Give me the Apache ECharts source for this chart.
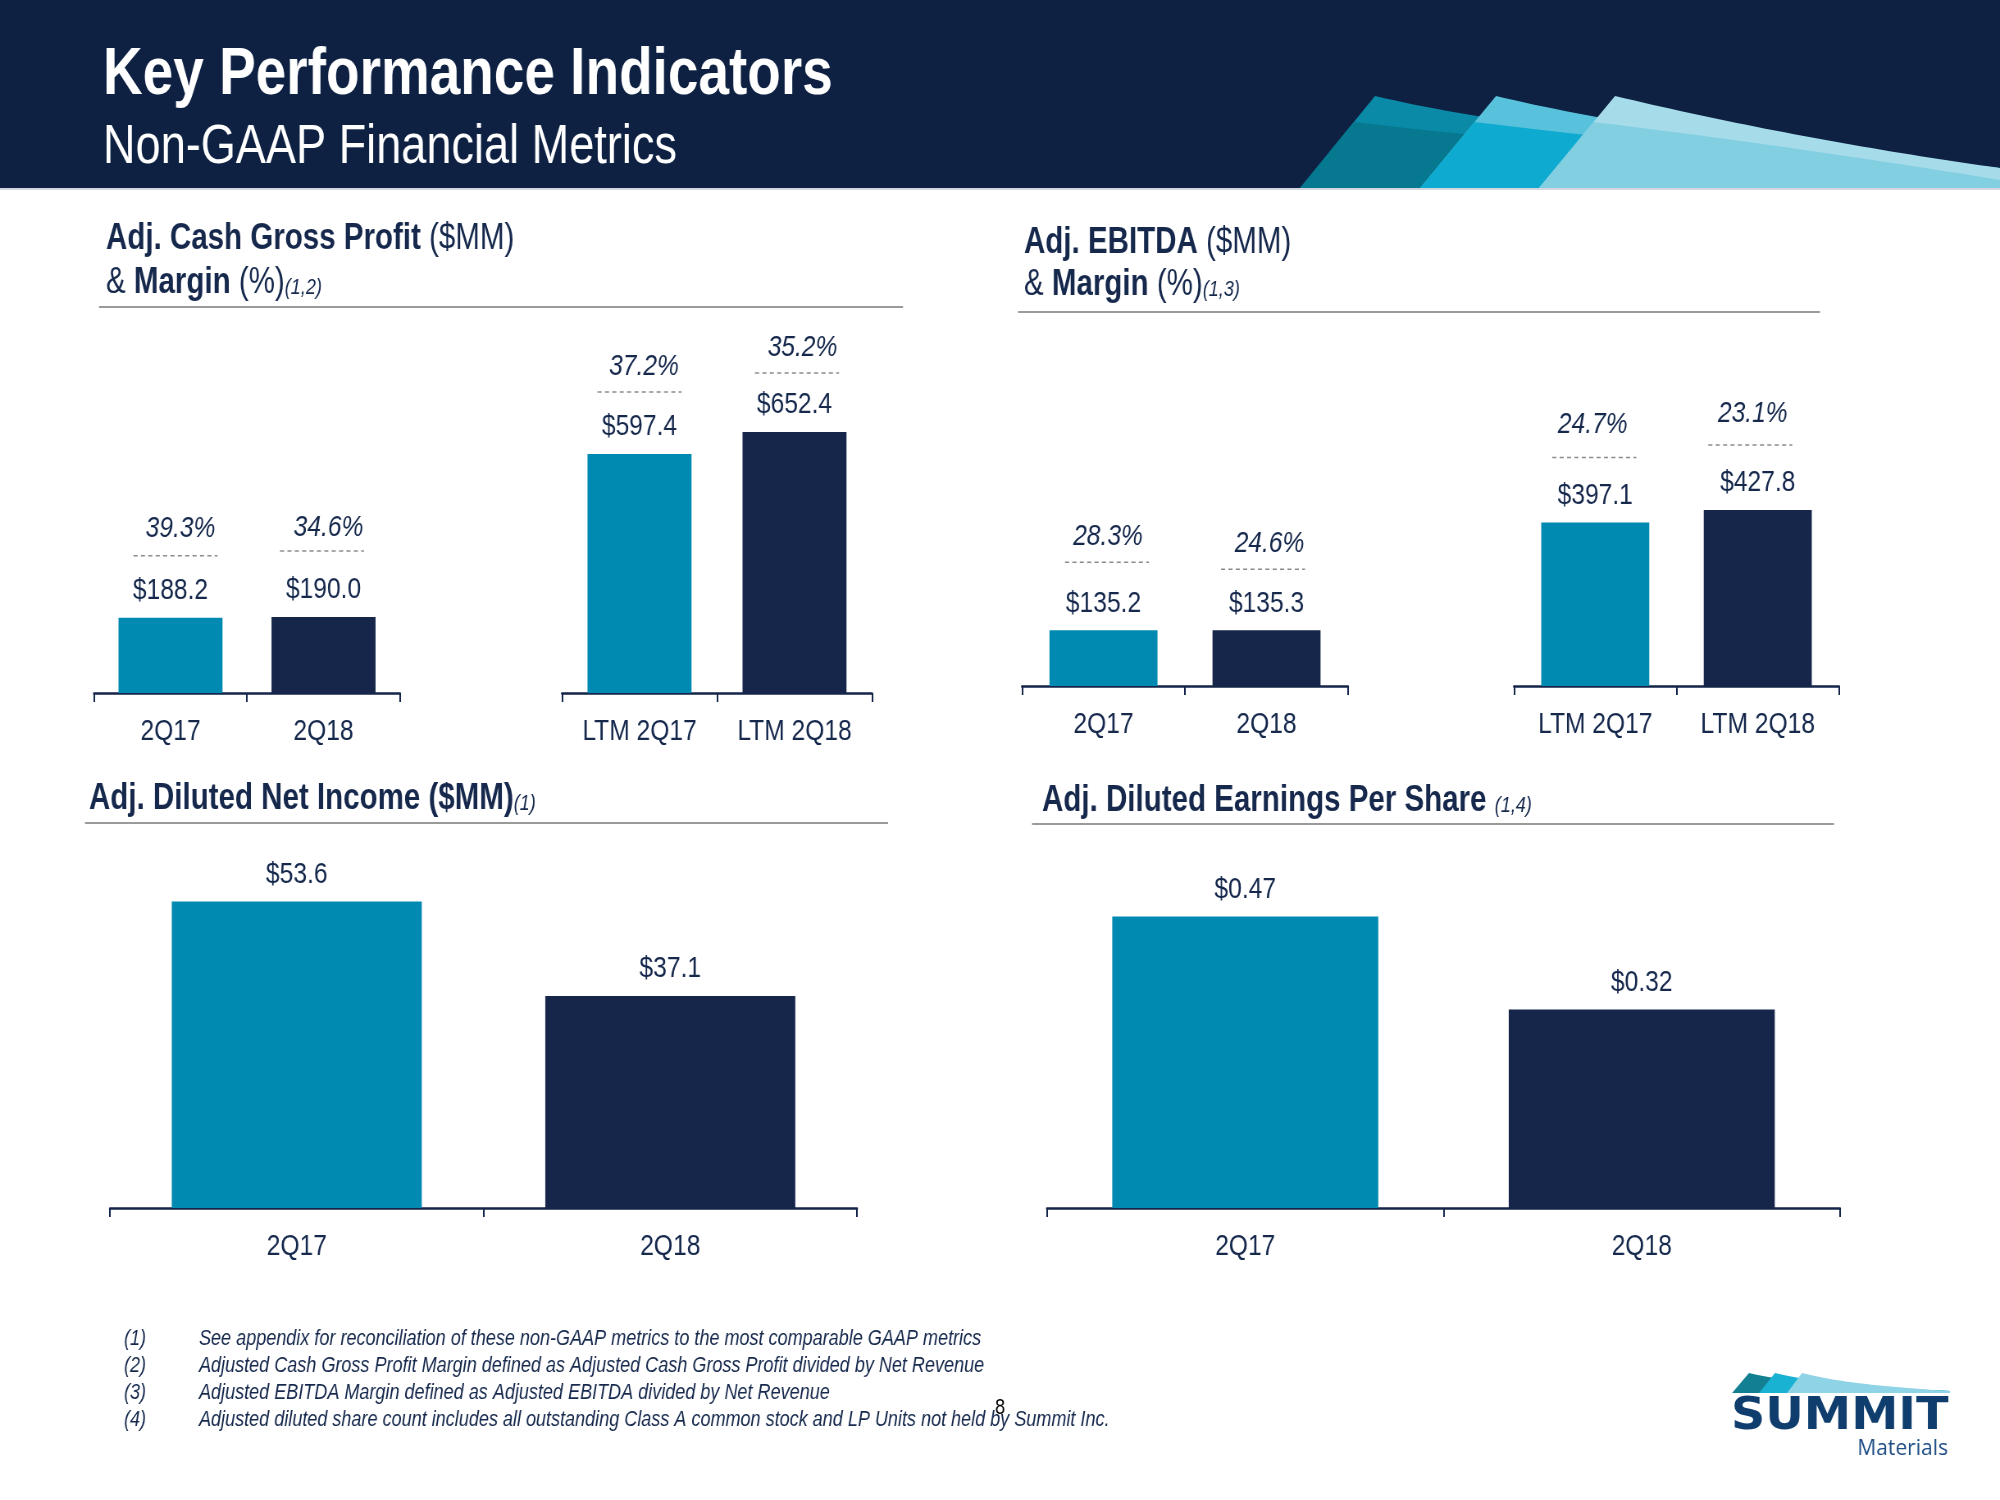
<!DOCTYPE html>
<html>
<head>
<meta charset="utf-8">
<script src="https://cdn.jsdelivr.net/npm/echarts@6/dist/echarts.min.js"></script>
<style>
html,body{margin:0;padding:0;background:#fff;overflow:hidden;}
#wrap{width:2000px;height:1500px;overflow:hidden;position:relative;}
#main{height:1500px;transform-origin:0 0;position:absolute;left:0;top:0;}
</style>
</head>
<body>
<div id="wrap"><div id="main"></div></div>
<script>
// ---------------- DATA ----------------
const cgpCatsQ = ['2Q17', '2Q18'];
const cgpValsQ = [188.2, 190.0];
const cgpMarginQ = [39.3, 34.6];
const cgpCatsLTM = ['LTM 2Q17', 'LTM 2Q18'];
const cgpValsLTM = [597.4, 652.4];
const cgpMarginLTM = [37.2, 35.2];

const ebitdaCatsQ = ['2Q17', '2Q18'];
const ebitdaValsQ = [135.2, 135.3];
const ebitdaMarginQ = [28.3, 24.6];
const ebitdaCatsLTM = ['LTM 2Q17', 'LTM 2Q18'];
const ebitdaValsLTM = [397.1, 427.8];
const ebitdaMarginLTM = [24.7, 23.1];

const niCats = ['2Q17', '2Q18'];
const niVals = [53.6, 37.1];

const epsCats = ['2Q17', '2Q18'];
const epsVals = [0.47, 0.32];

const footnoteNums = ['(1)', '(2)', '(3)', '(4)'];
const footnotes = [
  'See appendix for reconciliation of these non-GAAP metrics to the most comparable GAAP metrics',
  'Adjusted Cash Gross Profit Margin defined as Adjusted Cash Gross Profit divided by Net Revenue',
  'Adjusted EBITDA Margin defined as Adjusted EBITDA divided by Net Revenue',
  'Adjusted diluted share count includes all outstanding Class A common stock and LP Units not held by Summit Inc.'
];

// ---------------- STYLE / LAYOUT ----------------
// The chart canvas is drawn wider and squeezed horizontally (narrow type like Arial Narrow).
const K = 0.82;
const X = v => v / K;
const mainEl = document.getElementById('main');
mainEl.style.width = (2000 / K) + 'px';
mainEl.style.transform = 'scaleX(' + K + ')';

const FN = "'Liberation Sans',Arial,sans-serif";
const NAVY = '#16294d';
const BAR_COLORS = ['#008ab1', '#15264a'];
const AXIS_COLOR = '#14254a';

const chart = echarts.init(mainEl, null, {renderer: 'canvas'});

// grids: [left, top, width, height, yMax, barWidth]
const gridDefs = [
  [94, 373, 306, 320, 800, 104],
  [562, 373, 310, 320, 800, 104],
  [1022, 439, 326, 247, 600, 108],
  [1514, 439, 325, 247, 600, 108],
  [110, 865, 747, 343, 60, 250],
  [1047, 898, 793, 310, 0.5, 266]
];
const catsList = [cgpCatsQ, cgpCatsLTM, ebitdaCatsQ, ebitdaCatsLTM, niCats, epsCats];
const valsList = [cgpValsQ, cgpValsLTM, ebitdaValsQ, ebitdaValsLTM, niVals, epsVals];
const marginList = [cgpMarginQ, cgpMarginLTM, ebitdaMarginQ, ebitdaMarginLTM, null, null];
const decimals = [1, 1, 1, 1, 1, 2];
// per-item placement of the dashed rule and margin text relative to the bar top
const marginLayout = [
  {dashY: [62, 66], dashDX: [5, -1.5], pctY: [89, 89], pctDX: [10, 5]},
  {dashY: [62, 59], dashDX: [0, 2.5], pctY: [87, 84], pctDX: [4.5, 8]},
  {dashY: [68, 61], dashDX: [3.5, -3.5], pctY: [94, 87], pctDX: [4.5, 3]},
  {dashY: [65, 65], dashDX: [-1, -7.5], pctY: [98, 96], pctDX: [-2.5, -5]}
];

const grids = [], xAxes = [], yAxes = [], series = [];
gridDefs.forEach((g, i) => {
  grids.push({left: X(g[0]), top: g[1], width: X(g[2]), height: g[3], containLabel: false});
  xAxes.push({
    gridIndex: i, type: 'category', data: catsList[i],
    axisLine: {show: true, lineStyle: {color: AXIS_COLOR, width: 2.5}},
    axisTick: {show: true, length: 9, lineStyle: {color: AXIS_COLOR, width: 2}},
    axisLabel: {fontFamily: FN, fontSize: 30, color: NAVY, margin: 24, interval: 0},
    splitLine: {show: false}
  });
  yAxes.push({gridIndex: i, type: 'value', min: 0, max: g[4], show: false});
  const dec = decimals[i];
  series.push({
    type: 'bar', xAxisIndex: i, yAxisIndex: i, barWidth: X(g[5]),
    data: valsList[i].map((v, j) => ({value: v, itemStyle: {color: BAR_COLORS[j]}})),
    label: {
      show: true, position: 'top', distance: 12,
      fontFamily: FN, fontSize: 30, color: NAVY,
      formatter: p => '$' + p.value.toFixed(dec)
    },
    silent: true
  });
  if (marginList[i]) {
    const L = marginLayout[i];
    series.push({
      type: 'custom', xAxisIndex: i, yAxisIndex: i,
      data: valsList[i].map((v, j) => [j, v, marginList[i][j]]),
      renderItem: function (params, api) {
        const j = params.dataIndex;
        const p = api.coord([api.value(0), api.value(1)]);
        const cx = p[0] + X(L.dashDX[j]);
        return {
          type: 'group',
          children: [
            {type: 'line', shape: {x1: cx - X(42), y1: p[1] - L.dashY[j], x2: cx + X(42), y2: p[1] - L.dashY[j]},
             style: {stroke: '#8c8c8c', lineWidth: 1.5, lineDash: [5, 4]}},
            {type: 'text', x: p[0] + X(L.pctDX[j]), y: p[1] - L.pctY[j],
             style: {text: api.value(2).toFixed(1) + '%', fontFamily: FN, fontStyle: 'italic', fontSize: 30,
                     fill: NAVY, align: 'center', verticalAlign: 'middle'}}
          ]
        };
      },
      silent: true, z: 5
    });
  }
});

// ---------------- DECORATION ----------------
function qb(p0, p1, p2, n) {
  const pts = [];
  for (let k = 0; k <= n; k++) {
    const t = k / n, u = 1 - t;
    pts.push([X(u * u * p0[0] + 2 * u * t * p1[0] + t * t * p2[0]), u * u * p0[1] + 2 * u * t * p1[1] + t * t * p2[1]]);
  }
  return pts;
}
const graphics = [];
graphics.push({type: 'rect', shape: {x: 0, y: 0, width: X(2000), height: 188}, style: {fill: '#0e2142'}});
graphics.push({type: 'rect', shape: {x: 0, y: 188, width: X(2000), height: 2}, style: {fill: '#d3d8e0'}});

// header mountains
const peaks = [[1375, 1300, '#0a8aa6', '#06788f'], [1496, 1420, '#58c2dc', '#0eaacf'], [1615, 1539, '#a6dcea', '#83cfe2']];
peaks.forEach(pk => {
  const px = pk[0], lb = pk[1];
  const up = [[X(lb), 188]].concat(qb([px, 96], [px + 185, 140], [2000, 168], 40)).concat([[X(2000), 188]]);
  graphics.push({type: 'polygon', shape: {points: up}, style: {fill: pk[2]}});
  const lx = px - (26 / 92) * (px - lb);
  const low = [[X(lb), 188]].concat(qb([lx, 122], [px + 170, 145], [2000, 180], 40)).concat([[X(2000), 188]]);
  graphics.push({type: 'polygon', shape: {points: low}, style: {fill: pk[3]}});
});

// header texts
graphics.push({type: 'text', x: X(103), y: 76, style: {text: 'Key Performance Indicators', fontFamily: FN, fontWeight: 'bold', fontSize: 67, fill: '#ffffff', verticalAlign: 'middle'}});
graphics.push({type: 'text', x: X(103), y: 148, style: {text: 'Non-GAAP Financial Metrics', fontFamily: FN, fontSize: 55, fill: '#ffffff', verticalAlign: 'middle'}});

// panel titles
const rich = {
  b: {fontFamily: FN, fontWeight: 'bold', fontSize: 36, fill: NAVY},
  r: {fontFamily: FN, fontSize: 36, fill: NAVY},
  s: {fontFamily: FN, fontStyle: 'italic', fontSize: 22, fill: NAVY, padding: [10, 0, 0, 0]}
};
function rt(x, y, text) {
  graphics.push({type: 'text', x: X(x), y: y, style: {text: text, rich: rich, verticalAlign: 'middle'}});
}
rt(106, 239, '{b|Adj. Cash Gross Profit}{r| ($MM)}');
rt(106, 283, '{r|& }{b|Margin}{r| (%)}{s|(1,2)}');
rt(1024, 243, '{b|Adj. EBITDA}{r| ($MM)}');
rt(1024, 285, '{r|& }{b|Margin}{r| (%)}{s|(1,3)}');
rt(89, 799, '{b|Adj. Diluted Net Income ($MM)}{s|(1)}');
rt(1042, 801, '{b|Adj. Diluted Earnings Per Share }{s|(1,4)}');

// separators
[[99, 903, 307], [1018, 1820, 312], [85, 888, 823], [1032, 1834, 824]].forEach(s => {
  graphics.push({type: 'line', shape: {x1: X(s[0]), y1: s[2], x2: X(s[1]), y2: s[2]}, style: {stroke: '#9a9a9a', lineWidth: 2}});
});

// footnotes
footnotes.forEach((t, k) => {
  const y = 1339 + k * 26.8;
  graphics.push({type: 'text', x: X(124), y: y, style: {text: footnoteNums[k], fontFamily: FN, fontStyle: 'italic', fontSize: 22, fill: NAVY, verticalAlign: 'middle'}});
  graphics.push({type: 'text', x: X(199), y: y, style: {text: t, fontFamily: FN, fontStyle: 'italic', fontSize: 22, fill: NAVY, verticalAlign: 'middle'}});
});
graphics.push({type: 'text', x: X(1000), y: 1408, style: {text: '8', fontFamily: FN, fontSize: 22, fill: '#000000', align: 'center', verticalAlign: 'middle'}});

// bottom logo
const mini = [[1749, 1732, '#137f93'], [1775, 1759, '#1ab2d2'], [1802, 1787, '#8fd4e6']];
mini.forEach(m => {
  const pts = [[X(m[1]), 1393]].concat(qb([m[0], 1373], [m[0] + 45, 1385], [1950, 1391], 30)).concat([[X(1950), 1393]]);
  graphics.push({type: 'polygon', shape: {points: pts}, style: {fill: m[2]}});
});
graphics.push({type: 'text', x: X(1731), y: 1418, scaleX: 1.08 / K, originX: 0, originY: 0,
  style: {text: 'SUMMIT', fontFamily: "'DejaVu Sans',sans-serif", fontWeight: 'bold', fontSize: 44, fill: '#0f3e6e', verticalAlign: 'middle'}});
graphics.push({type: 'text', x: X(1948), y: 1449, scaleX: 1 / K, originX: 0, originY: 0,
  style: {text: 'Materials', fontFamily: "'Open Sans',sans-serif", fontSize: 21, fill: '#1f4e85', align: 'right', verticalAlign: 'middle'}});

chart.setOption({
  backgroundColor: '#ffffff',
  animation: false,
  grid: grids,
  xAxis: xAxes,
  yAxis: yAxes,
  series: series,
  graphic: {elements: graphics}
});
</script>
</body>
</html>
